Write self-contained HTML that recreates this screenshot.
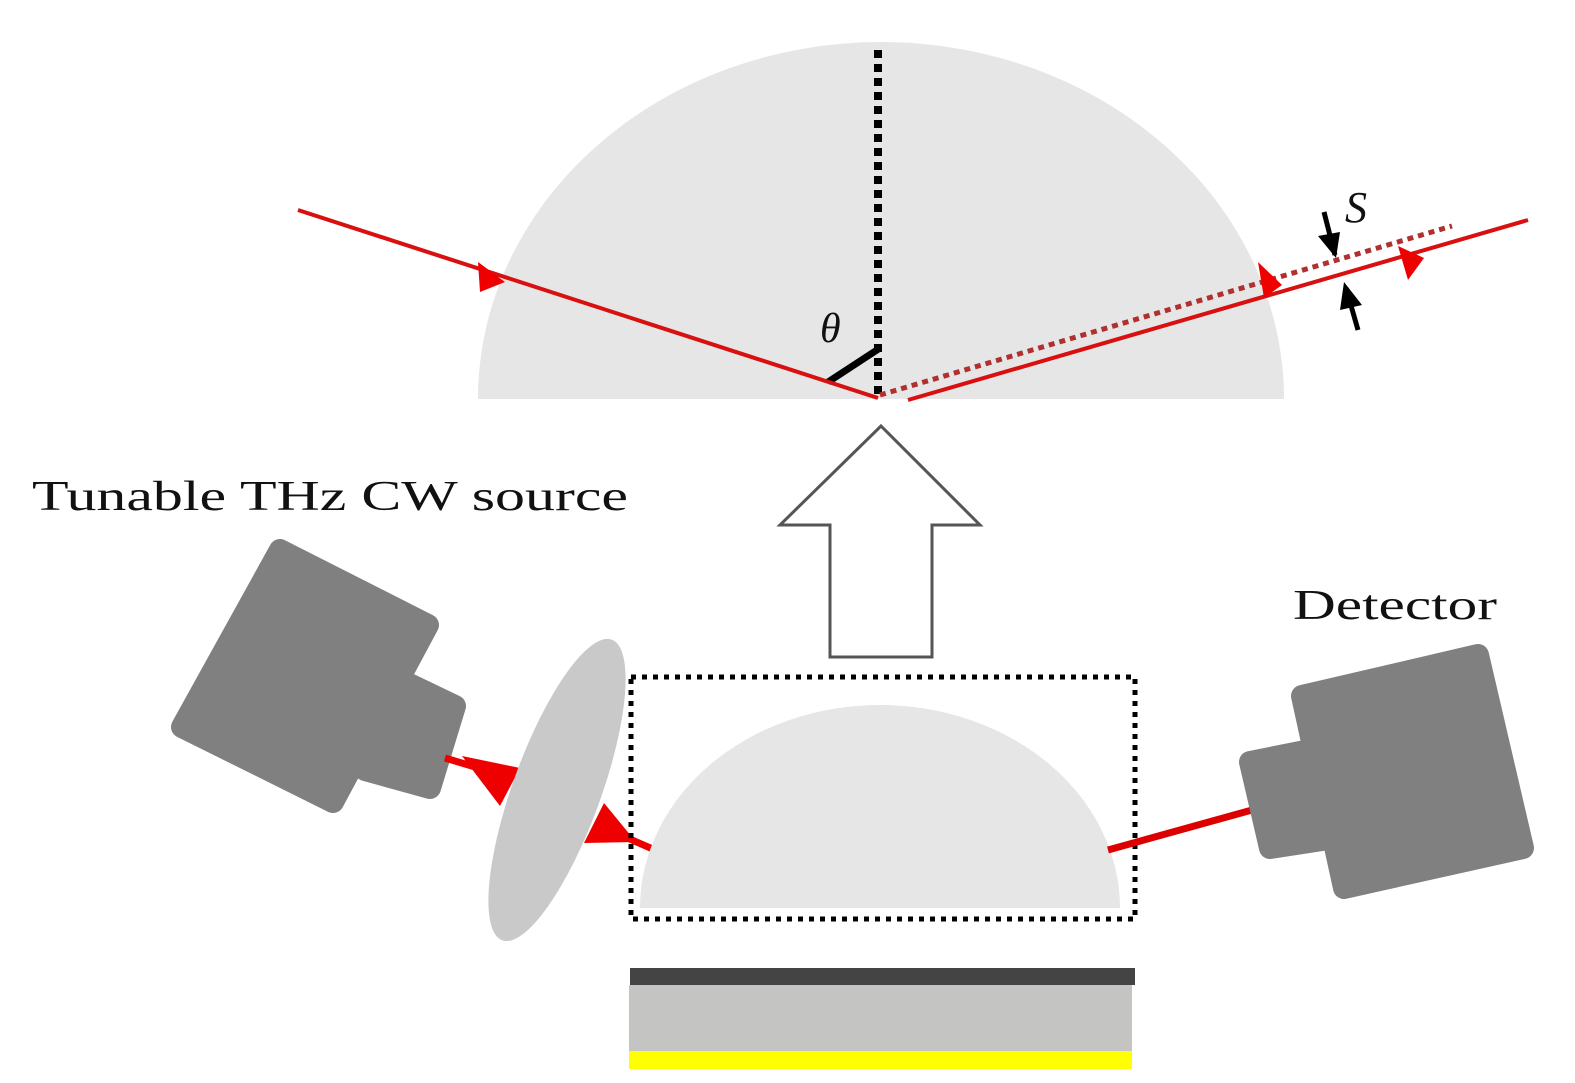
<!DOCTYPE html>
<html><head><meta charset="utf-8"><style>
html,body{margin:0;padding:0;background:#fff}
svg{display:block}
text{font-family:"Liberation Serif",serif;fill:#111}
</style></head><body>
<svg width="1575" height="1083" viewBox="0 0 1575 1083" xmlns="http://www.w3.org/2000/svg">
<path d="M478 399 A403 357 0 0 1 1284 399 Z" fill="#e6e6e6"/>
<line x1="878" y1="50" x2="878" y2="398" stroke="#000" stroke-width="8" stroke-dasharray="8 6"/>
<line x1="828" y1="382" x2="880" y2="348" stroke="#000" stroke-width="7"/>
<line x1="298" y1="210" x2="878" y2="398" stroke="#d81010" stroke-width="4"/>
<polygon points="478,262 505,282 480,292" fill="#e00"/>
<line x1="880" y1="395" x2="1452" y2="226" stroke="#b03030" stroke-width="5" stroke-dasharray="6 5"/>
<line x1="908" y1="400" x2="1528" y2="220" stroke="#d81010" stroke-width="4"/>
<polygon points="1258,262 1282,285 1264,298" fill="#e00"/>
<polygon points="1398,246 1424,258 1408,280" fill="#e00"/>
<line x1="1324" y1="212" x2="1335" y2="255" stroke="#000" stroke-width="5"/>
<polygon points="1318,236 1340,232 1336,258" fill="#000"/>
<line x1="1358" y1="330" x2="1346" y2="288" stroke="#000" stroke-width="5"/>
<polygon points="1340,310 1362,305 1344,282" fill="#000"/>
<text x="1345" y="222" font-size="44" font-style="italic">S</text>
<text x="820" y="342" font-size="42" font-style="italic">θ</text>

<polygon points="881,426 980,525 932,525 932,657 830,657 830,525 780,525" fill="#fff" stroke="#555" stroke-width="3"/>

<text x="32" y="510" font-size="42" textLength="596" lengthAdjust="spacingAndGlyphs">Tunable THz CW source</text>
<text x="1293" y="619" font-size="42" textLength="204" lengthAdjust="spacingAndGlyphs">Detector</text>

<g fill="#808080" stroke="#808080" stroke-width="22" stroke-linejoin="round">
<polygon points="280,550 428,625 333,802 182,727"/>
<polygon points="405,682 455,706 430,788 365,770"/>
</g>
<line x1="445" y1="758" x2="505" y2="776" stroke="#e00" stroke-width="7"/>
<polygon points="462,756 520,768 500,806" fill="#e00"/>
<ellipse cx="557" cy="790" rx="44" ry="160" transform="rotate(20 557 790)" fill="#c8c9c8"/>
<line x1="600" y1="826" x2="655" y2="850" stroke="#e00" stroke-width="7"/>
<polygon points="604,803 584,843 636,842" fill="#e00"/>

<path d="M640 908 A240 203 0 0 1 1120 908 Z" fill="#e6e6e6"/>
<rect x="631" y="677" width="504" height="242" fill="none" stroke="#000" stroke-width="5" stroke-dasharray="5 6"/>

<line x1="1108" y1="850" x2="1252" y2="810" stroke="#d00" stroke-width="7"/>
<g fill="#808080" stroke="#808080" stroke-width="22" stroke-linejoin="round">
<polygon points="1302,696 1478,655 1523,848 1344,888"/>
<polygon points="1250,762 1320,748 1335,838 1270,848"/>
</g>

<rect x="630" y="968" width="505" height="17" fill="#444"/>
<rect x="629" y="985" width="503" height="66" fill="#c4c5c3"/>
<rect x="629" y="1051" width="503" height="18" fill="#ffff00"/>
</svg>
</body></html>
